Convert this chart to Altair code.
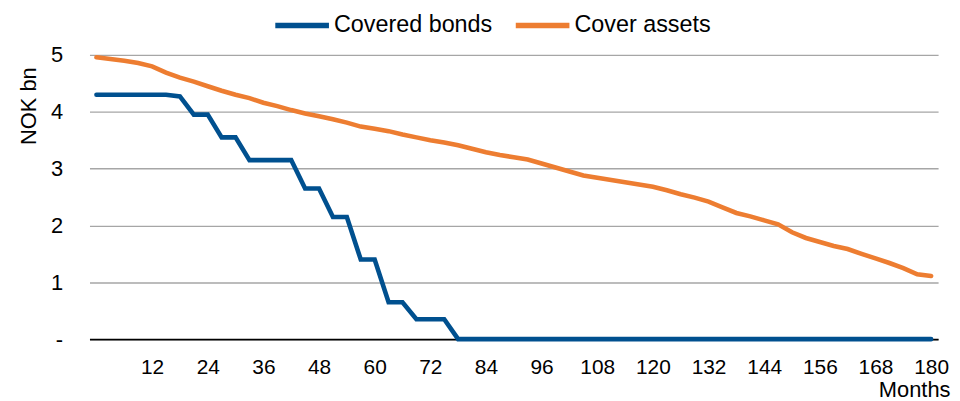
import altair as alt
import pandas as pd

months = [0, 3, 6, 9, 12, 15, 18, 21, 24, 27, 30, 33, 36, 39, 42, 45, 48, 51, 54, 57,
          60, 63, 66, 69, 72, 75, 78, 81, 84, 87, 90, 93, 96, 99, 102, 105, 108, 111, 114, 117,
          120, 123, 126, 129, 132, 135, 138, 141, 144, 147, 150, 153, 156, 159, 162, 165, 168, 171, 174, 177,
          180]

covered_bonds = [4.30, 4.30, 4.30, 4.30, 4.30, 4.30, 4.27, 3.95, 3.95, 3.55, 3.55, 3.15, 3.15, 3.15, 3.15, 2.65, 2.65, 2.15, 2.15, 1.40,
                 1.40, 0.65, 0.65, 0.35, 0.35, 0.35, 0, 0, 0, 0, 0, 0, 0, 0, 0, 0, 0, 0, 0, 0,
                 0, 0, 0, 0, 0, 0, 0, 0, 0, 0, 0, 0, 0, 0, 0, 0, 0, 0, 0, 0,
                 0]

cover_assets = [4.96, 4.93, 4.90, 4.86, 4.80, 4.69, 4.60, 4.53, 4.45, 4.37, 4.30, 4.24, 4.16, 4.10, 4.03, 3.97, 3.92, 3.87, 3.81, 3.74,
                3.70, 3.66, 3.60, 3.55, 3.50, 3.46, 3.41, 3.35, 3.29, 3.24, 3.20, 3.16, 3.09, 3.02, 2.95, 2.88, 2.84, 2.80, 2.76, 2.72,
                2.68, 2.62, 2.55, 2.49, 2.42, 2.32, 2.22, 2.16, 2.09, 2.02, 1.88, 1.78, 1.71, 1.64, 1.585, 1.50, 1.42, 1.34, 1.25, 1.14,
                1.11]

series_names = ["Covered bonds", "Cover assets"]
series_colors = ["#00508F", "#ED7D31"]
x_ticks = [12, 24, 36, 48, 60, 72, 84, 96, 108, 120, 132, 144, 156, 168, 180]
y_ticks = [0, 1, 2, 3, 4, 5]

rows = []
for m, v in zip(months, covered_bonds):
    rows.append({"month": m, "value": v, "series": series_names[0]})
for m, v in zip(months, cover_assets):
    rows.append({"month": m, "value": v, "series": series_names[1]})
df = pd.DataFrame(rows)

FONT = "Liberation Sans"

chart = alt.Chart(df).mark_line(strokeWidth=4.6, strokeCap="round").encode(
    x=alt.X("month:Q",
            scale=alt.Scale(domain=[-1.5, 181.5], nice=False, zero=False),
            axis=alt.Axis(values=x_ticks, title="Months", grid=False, ticks=False,
                          domainColor="#000000", domainWidth=1.6,
                          labelFontSize=21, labelColor="#000000", labelFont=FONT,
                          labelPadding=18, labelFlush=False, labelOverlap=False,
                          titleFont=FONT, titleFontSize=22, titleFontWeight="normal",
                          titleColor="#000000", titleAlign="right", titleAnchor="end",
                          titleBaseline="alphabetic", titleX=866, titleY=58)),
    y=alt.Y("value:Q",
            scale=alt.Scale(domain=[0, 5], nice=False),
            axis=alt.Axis(values=y_ticks, title="NOK bn", domain=False, ticks=False,
                          gridColor="#A6A6A6", gridWidth=1.3,
                          labelExpr="datum.value == 0 ? '-' : datum.label",
                          labelFontSize=22, labelColor="#000000", labelFont=FONT,
                          labelPadding=27,
                          titleFont=FONT, titleFontSize=22, titleFontWeight="normal",
                          titleColor="#000000", titleAngle=-90, titleAlign="center",
                          titleBaseline="alphabetic", titleX=-54, titleY=51)),
    color=alt.Color("series:N",
                    scale=alt.Scale(domain=series_names, range=series_colors),
                    sort=series_names,
                    legend=alt.Legend(title=None, orient="none", direction="horizontal",
                                      legendX=184, legendY=-60,
                                      symbolType="stroke", symbolSize=2916,
                                      symbolStrokeWidth=5.5,
                                      labelFont=FONT, labelFontSize=23.5, labelColor="#000000",
                                      labelOffset=2, columnPadding=12, padding=0)),
).properties(
    width=854,
    height=286,
    autosize=alt.AutoSizeParams(type="none"),
    padding={"left": 82, "top": 46, "right": 14, "bottom": 63},
).configure_view(stroke=None)

chart.save("out.html", embed_options={"renderer": "svg", "actions": False})
